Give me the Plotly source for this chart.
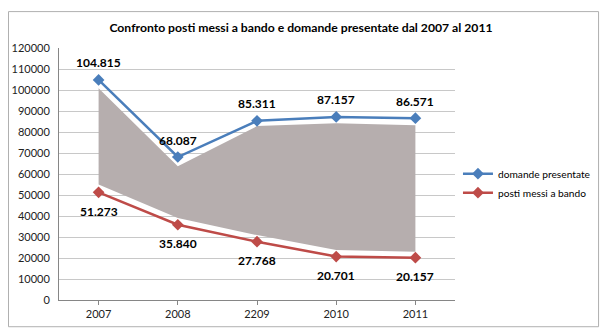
import plotly.graph_objects as go

years = ["2007", "2008", "2209", "2010", "2011"]
domande = [104815, 68087, 85311, 87157, 86571]
posti = [51273, 35840, 27768, 20701, 20157]
domande_labels = ["104.815", "68.087", "85.311", "87.157", "86.571"]
posti_labels = ["51.273", "35.840", "27.768", "20.701", "20.157"]
# grey band drawn between the two series
band_upper = [100800, 63700, 82800, 84200, 83200]
band_lower = [55000, 39000, 30900, 23800, 23000]
y_ticks = list(range(0, 120001, 10000))

W, H = 608, 333
L, R, T, B = 55, 153, 47.5, 32.8
pw, ph = W - L - R, H - T - B

def px(xp):
    return (xp - L) / pw

def py(yp):
    return (H - B - yp) / ph

FONT = "Lato"
BLUE = "#4A7EBB"
RED = "#BE4B48"

fig = go.Figure()

fig.add_trace(go.Scatter(
    x=years + years[::-1],
    y=band_upper + band_lower[::-1],
    fill="toself", fillcolor="#B6AEAE",
    line=dict(width=0), mode="lines",
    showlegend=False, hoverinfo="skip",
))

fig.add_trace(go.Scatter(
    x=years, y=domande, name="domande presentate",
    mode="lines+markers",
    line=dict(color=BLUE, width=2.5),
    marker=dict(symbol="diamond", size=9, color=BLUE),
))
fig.add_trace(go.Scatter(
    x=years, y=posti, name="posti messi a bando",
    mode="lines+markers",
    line=dict(color=RED, width=2.5),
    marker=dict(symbol="diamond", size=9, color=RED),
))

annotations = []
for i, (yv, t) in enumerate(zip(domande, domande_labels)):
    annotations.append(dict(x=i, y=yv, xref="x", yref="y", text="<b>%s</b>" % t,
                            showarrow=False, yshift=17,
                            font=dict(family=FONT, size=12, color="#000")))
for i, (yv, t) in enumerate(zip(posti, posti_labels)):
    annotations.append(dict(x=i, y=yv, xref="x", yref="y", text="<b>%s</b>" % t,
                            showarrow=False, yshift=-19,
                            font=dict(family=FONT, size=12, color="#000")))

fig.update_layout(
    width=W, height=H,
    margin=dict(l=L, r=R, t=T, b=B),
    paper_bgcolor="white", plot_bgcolor="white",
    font=dict(family=FONT, size=11, color="#222"),
    title=dict(text="<b>Confronto posti messi a bando e domande presentate dal 2007 al 2011</b>",
               x=301 / W, xanchor="center", y=1 - 28 / H, yanchor="middle",
               font=dict(family=FONT, size=12.2, color="#000")),
    showlegend=True,
    legend=dict(x=px(458), y=py(159), xanchor="left", yanchor="top",
                font=dict(family=FONT, size=10.2, color="#000"),
                itemwidth=30, tracegroupgap=0, bgcolor="rgba(0,0,0,0)"),
    annotations=annotations,
    xaxis=dict(type="category", range=[-0.5, 4.5], showgrid=False,
               showline=True, linecolor="#868686", linewidth=1,
               ticks="outside", ticklen=4, tickcolor="#868686",
               tickfont=dict(family=FONT, size=11, color="#222"), fixedrange=True),
    yaxis=dict(range=[0, 120000], tickvals=y_ticks,
               ticktext=[str(v) for v in y_ticks],
               showgrid=True, gridcolor="#C8C8C8", gridwidth=1,
               showline=True, linecolor="#868686", linewidth=1,
               ticks="", ticklabelstandoff=6,
               tickfont=dict(family=FONT, size=11, color="#222"), zeroline=False),
    shapes=[dict(type="rect", xref="paper", yref="paper",
                 x0=px(4), x1=px(600), y0=py(327), y1=py(11),
                 line=dict(color="#B0B0B0", width=1), fillcolor="rgba(0,0,0,0)",
                 layer="below")],
)

fig.write_html("out.html")
